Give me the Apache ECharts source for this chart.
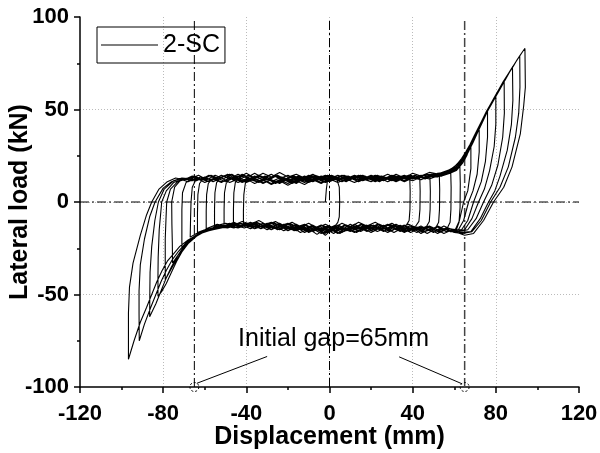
<!DOCTYPE html>
<html><head><meta charset="utf-8">
<script src="https://cdn.jsdelivr.net/npm/echarts@6/dist/echarts.min.js"></script>
<style>html,body{margin:0;padding:0;background:#fff}#c{width:600px;height:453px}</style>
</head><body><div id="c"></div>
<script>
// ---- axis ticks ----
const xTicks = [-120, -80, -40, 0, 40, 80, 120];
const yTicks = [-100, -50, 0, 50, 100];
const seriesName = '2-SC';

// ---- hysteresis path, one array per cycle (displacement mm, load kN) ----
const loop00 = [[-2,0],[-1.5,7],[-0.8,13],[0.5,14],[2,12.5],[3.6,12],[4.7,8],[4.9,0],[4.7,-8],[4,-11],[3,-12.5]];
const loop01 = [[0,-14],[-4,-12.5],[-8,-14.5],[-12,-12],[-16,-13.5],[-20,-11.5],[-24,-13],[-28,-11],[-32,-12.5],[-36,-11],[-39,-12],[-41.4,-11.5],
 [-41.4,-5],[-41.2,4],[-40.5,10],[-39,12.5],
 [-35,11],[-31,13],[-27,11.5],[-23,13.5],[-19,12],[-15,14],[-11,12.5],[-7,14.5],[-3,13],[1,14.5],[5,12.5],[9,14],[13,12],[17,13.5],[21,12],[25,14],[29,12.5],[33,14],[36,12.5],[38.6,13],
 [38.8,6],[38.7,-4],[38.3,-10],[37,-12.5]];
const loop02 = [[33,-14],[29,-12],[25,-14.5],[21,-12.5],[17,-15],[13,-13],[9,-15.5],[5,-13],[1,-16],[-3,-13.5],[-7,-15],[-11,-12.5],[-15,-14],[-19,-11.5],[-23,-13.5],[-27,-11],[-31,-13],[-35,-11],[-39,-12.5],[-43,-11.5],[-46.2,-12],
 [-46.2,-4],[-46,5],[-45.3,10.5],[-43.5,13],
 [-40,11.5],[-36,14],[-32,12],[-28,15],[-24,12.5],[-20,14.5],[-16,11.5],[-12,13.5],[-8,11.5],[-4,14],[0,12],[4,14.5],[8,12.5],[12,14.5],[16,13],[20,14],[24,12],[28,13.5],[32,11.5],[36,13.5],[40,12.5],[43.4,14],
 [43.6,6],[43.5,-4],[43,-10.5],[41.5,-13]];
const loop03 = [[38,-15],[34,-12.5],[30,-15.5],[26,-13],[22,-15],[18,-12.5],[14,-14.5],[10,-12],[6,-15],[2,-13],[-2,-17],[-6,-14],[-10,-16],[-14,-13.5],[-18,-15],[-22,-12.5],[-26,-14],[-30,-12],[-34,-13.5],[-38,-11],[-42,-13],[-46,-11.5],[-50.7,-13],
 [-50.7,-4],[-50.5,5],[-49.7,10],[-48,12.5],
 [-44,14],[-40,11],[-36,12.5],[-32,10.5],[-28,12],[-24,10],[-20,12.5],[-16,10],[-12,13],[-8,11],[-4,13.5],[0,11.5],[4,13],[8,11],[12,13.5],[16,11.5],[20,13],[24,11],[28,13.5],[32,12],[36,14],[40,12.5],[44,14.5],[48.3,13.5],
 [48.5,6],[48.4,-4],[48,-10.5],[46.5,-13.5]];
const loop04 = [[42,-14],[38,-12],[34,-14],[30,-11.5],[26,-13.5],[22,-11],[18,-13],[14,-11],[10,-13.5],[6,-11.5],[2,-14],[-2,-12],[-6,-14],[-10,-11.5],[-14,-13.5],[-18,-11],[-22,-13],[-26,-10.5],[-30,-12.5],[-34,-10],[-38,-12],[-42,-10.5],[-46,-12.5],[-50,-11.5],[-55.3,-13],
 [-55.3,-4],[-55.1,5],[-54.3,10.5],[-52.5,13],
 [-48,15],[-44,13],[-40,15.5],[-36,13],[-32,15.5],[-28,13.5],[-24,16],[-20,13.5],[-16,15],[-12,13],[-8,15],[-4,12.5],[0,14.5],[4,12],[8,14],[12,12.5],[16,14.5],[20,12],[24,14],[28,12.5],[32,15],[36,13],[40,15.5],[44,14],[48,16],[52.8,15],
 [53,7],[52.9,-4],[52.5,-11],[51,-14]];
const loop05 = [[46,-16],[42,-13.5],[38,-16],[34,-13],[30,-15.5],[26,-12.5],[22,-15],[18,-13],[14,-16],[10,-13.5],[6,-16.5],[2,-14],[-2,-18],[-6,-14.5],[-10,-16.5],[-14,-13],[-18,-15],[-22,-12],[-26,-14],[-30,-11.5],[-34,-13.5],[-38,-11],[-42,-13],[-46,-11],[-50,-13],[-54,-12],[-59.3,-14.5],
 [-59.3,-5],[-59.1,4],[-58.3,10],[-56.5,12.5],
 [-52,11],[-48,13],[-44,10.5],[-40,12.5],[-36,10],[-32,12],[-28,9.5],[-24,11.5],[-20,9],[-16,11.5],[-12,9.5],[-8,12],[-4,10],[0,12.5],[4,10.5],[8,12.5],[12,10.5],[16,13],[20,11],[24,13],[28,11],[32,13.5],[36,11.5],[40,13.5],[44,12],[48,14],[52,13.5],[55,15.5],[58.3,16.5],
 [58.5,8],[58.4,-4],[58,-11],[56.5,-14.5]];
const loop06 = [[52,-15],[48,-13],[44,-15.5],[40,-13],[36,-14.5],[32,-12],[28,-14],[24,-12],[20,-14.5],[16,-12],[12,-14],[8,-12.5],[4,-15],[0,-13],[-4,-15.5],[-8,-13],[-12,-15],[-16,-12.5],[-20,-14.5],[-24,-12],[-28,-14],[-32,-11.5],[-36,-13.5],[-40,-11.5],[-44,-13],[-48,-11.5],[-52,-13.5],[-56,-13],[-60,-15],[-63.5,-16.5],
 [-63.5,-6],[-63.3,4],[-62.5,10],[-60.5,13],
 [-56,12],[-52,14.5],[-48,12.5],[-44,15],[-40,13],[-36,15.5],[-32,13],[-28,15],[-24,12.5],[-20,14.5],[-16,12],[-12,14],[-8,12],[-4,14],[0,12.5],[4,14.5],[8,12],[12,14],[16,12.5],[20,14.5],[24,13],[28,15],[32,13],[36,14.5],[40,12.5],[44,14.5],[48,13.5],[52,15.5],[56,16],[59,17],[62.7,19.5],
 [62.9,10],[62.8,-3],[62.3,-11],[61,-15]];
const loop07 = [[56,-16],[52,-13.5],[48,-15.5],[44,-13],[40,-15],[36,-12.5],[32,-14.5],[28,-12],[24,-14],[20,-12.5],[16,-15],[12,-13],[8,-15.5],[4,-13.5],[0,-16],[-4,-14],[-8,-16],[-12,-13.5],[-16,-15.5],[-20,-13],[-24,-15],[-28,-12.5],[-32,-14],[-36,-12],[-40,-13.5],[-44,-12],[-48,-13.5],[-52,-12.5],[-56,-14],[-60,-15.5],[-64,-17],[-67,-19],
 [-66.8,-8],[-66.6,0],[-66,8],[-64.5,11.5],[-62,12.5],
 [-58,11],[-54,13],[-50,11],[-46,13],[-42,10.5],[-38,12.5],[-34,10.5],[-30,12.5],[-26,10],[-22,12],[-18,10],[-14,12],[-10,10.5],[-6,12.5],[-2,10.5],[2,12.5],[6,11],[10,13],[14,11],[18,13],[22,11.5],[26,13.5],[30,11.5],[34,13.5],[38,12],[42,14],[46,12.5],[50,14.5],[54,14],[58,15.5],[61,17],[64,21],[66,25],[68,31],
 [68,18],[66.5,6],[64.5,0],[62.5,-10],[60.5,-15],[56,-14]];
const loop08 = [[52,-16],[48,-13.5],[44,-16],[40,-13.5],[36,-16],[32,-13],[28,-15.5],[24,-13],[20,-15.5],[16,-13],[12,-15],[8,-12.5],[4,-15],[0,-13],[-4,-15],[-8,-12.5],[-12,-14.5],[-16,-12],[-20,-14],[-24,-11.5],[-28,-13.5],[-32,-11.5],[-36,-13.5],[-40,-12],[-44,-14],[-48,-12.5],[-52,-14],[-56,-14.5],[-60,-16],[-64,-18],[-68,-21],[-71,-25],
 [-71,-12],[-71,-4],[-70.7,5],[-69,10.5],[-66,12.5],
 [-62,12],[-58,14.5],[-54,12],[-50,14.5],[-46,12.5],[-42,15],[-38,12.5],[-34,14.5],[-30,12],[-26,14],[-22,11.5],[-18,13.5],[-14,11.5],[-10,14],[-6,12],[-2,14.5],[2,12.5],[6,14.5],[10,12],[14,14],[18,12],[22,13.5],[26,11.5],[30,13.5],[34,12],[38,14],[42,12.5],[46,14.5],[50,13.5],[54,15],[58,16],[61,18],[64,22],[66,26],[68,31],[70,35.5],[72,40],
 [72,27],[71,15],[69,6],[66.9,0],[64.5,-10],[62,-15],[57,-14.5]];
const loop09 = [[53,-16.5],[49,-14],[45,-16.5],[41,-14],[37,-16],[33,-13.5],[29,-16],[25,-13.5],[21,-16],[17,-13.5],[13,-16.5],[9,-14],[5,-17],[1,-14.5],[-3,-17],[-7,-14],[-11,-16],[-15,-13],[-19,-15],[-23,-12.5],[-27,-14.5],[-31,-12],[-35,-14],[-39,-12],[-43,-13.5],[-47,-12],[-51,-13.5],[-55,-13.5],[-59,-15],[-63,-17],[-67,-20.5],[-70,-24],[-73,-29],[-75.5,-33],
 [-75.6,-22],[-75.8,-12],[-75.9,0],[-74.5,8],[-71.5,12],[-68,13],
 [-64,11.5],[-60,13.5],[-56,11],[-52,13],[-48,10.5],[-44,12.5],[-40,10.5],[-36,12.5],[-32,10],[-28,12],[-24,10.5],[-20,12.5],[-16,10.5],[-12,12.5],[-8,11],[-4,13],[0,11],[4,13],[8,11.5],[12,13.5],[16,11.5],[20,13.5],[24,11.5],[28,13],[32,11],[36,13],[40,11.5],[44,13.5],[48,12.5],[52,14],[56,15],[59.5,16.5],[62.5,19],[65,23.5],[67,27.5],[69,32],[71,37],[73.5,43],[76,49],
 [76,35],[75,22],[73,11],[69.3,0],[66.5,-10],[63.5,-15],[59,-15]];
const loop10 = [[55,-17],[51,-14.5],[47,-17],[43,-14.5],[39,-16.5],[35,-14],[31,-16.5],[27,-14],[23,-16],[19,-13.5],[15,-16],[11,-13.5],[7,-16],[3,-14],[-1,-16.5],[-5,-14],[-9,-16],[-13,-13.5],[-17,-15.5],[-21,-13],[-25,-15],[-29,-12.5],[-33,-14.5],[-37,-12.5],[-41,-14],[-45,-12.5],[-49,-14],[-53,-13.5],[-57,-15],[-61,-16.5],[-65,-19],[-69,-23.5],[-72,-28.5],[-74.5,-33],[-77,-38],[-79,-42],
 [-79,-30],[-79,-20],[-78.6,-8],[-78.3,0],[-76.5,7],[-73,11],[-69,12.5],
 [-65,14],[-61,12],[-57,14.5],[-53,12.5],[-49,15],[-45,12.5],[-41,14.5],[-37,12],[-33,14],[-29,12],[-25,14.5],[-21,12],[-17,14],[-13,12],[-9,14.5],[-5,12.5],[-1,14.5],[3,12.5],[7,14.5],[11,12.5],[15,14.5],[19,12.5],[23,14.5],[27,12.5],[31,14.5],[35,12.5],[39,14.5],[43,13],[47,15],[51,14.5],[55,16],[59,17.5],[62,20],[65,24.5],[67,28.5],[69,33],[71,38],[73,42.5],[75,47],[77.5,52],[80,57],
 [80,42],[79.2,30],[77,17],[74.5,7],[71.7,0],[68.5,-9],[65,-15],[60,-15.5]];
const loop11 = [[56,-15],[52,-13],[48,-15.5],[44,-13],[40,-15.5],[36,-13],[32,-15],[28,-12.5],[24,-15],[20,-12.5],[16,-14.5],[12,-12],[8,-14.5],[4,-12.5],[0,-15],[-4,-12.5],[-8,-15],[-12,-12.5],[-16,-14.5],[-20,-12],[-24,-14],[-28,-11.5],[-32,-13.5],[-36,-11.5],[-40,-13.5],[-44,-12],[-48,-13.5],[-52,-13],[-56,-14.5],[-60,-16],[-64,-18.5],[-68,-22.5],[-71,-27],[-73.5,-32],[-76,-38],[-78.5,-44],[-80.5,-48],[-82.5,-51],
 [-82.5,-40],[-82.4,-30],[-81.9,-15],[-80.7,0],[-78.5,6],[-75,10.5],[-70,12.5],
 [-66,11.5],[-62,13.5],[-58,11],[-54,13],[-50,11],[-46,13.5],[-42,11],[-38,13],[-34,10.5],[-30,12.5],[-26,10.5],[-22,12.5],[-18,10.5],[-14,13],[-10,11],[-6,13],[-2,11],[2,13],[6,11],[10,13],[14,11],[18,13],[22,11],[26,13],[30,11.5],[34,13.5],[38,12],[42,14],[46,13],[50,14.5],[54,15],[58,17],[61,19],[64,23.5],[66,27],[68,31],[70,35.5],[72,40],[74,45],[76,49],[78,53.5],[80,57],[82,61],[84,65],
 [84.1,48],[83.3,35],[81,20],[78,9],[74.1,0],[70.5,-9],[66.5,-15],[62,-16]];
const loop12 = [[58,-16],[54,-14],[50,-16.5],[46,-14],[42,-16.5],[38,-14],[34,-16],[30,-13.5],[26,-16],[22,-13.5],[18,-16],[14,-13.5],[10,-16],[6,-14],[2,-17],[-2,-14.5],[-6,-17.5],[-10,-14.5],[-14,-16.5],[-18,-13.5],[-22,-15.5],[-26,-13],[-30,-15],[-34,-12.5],[-38,-14.5],[-42,-12.5],[-46,-14],[-50,-13],[-54,-14.5],[-58,-15.5],[-62,-17],[-66,-20],[-70,-24.5],[-73,-29],[-76,-35],[-78.5,-41],[-81,-48],[-83.5,-55],[-86.5,-62],
 [-86.4,-48],[-86.3,-38],[-85.5,-24],[-84,-10],[-82.3,0],[-79.5,7],[-75,11.5],[-71,13],
 [-67,12.5],[-63,14.5],[-59,12],[-55,14.5],[-51,12.5],[-47,15],[-43,12.5],[-39,14.5],[-35,12],[-31,14],[-27,11.5],[-23,13.5],[-19,11.5],[-15,13.5],[-11,11.5],[-7,14],[-3,12],[1,14],[5,12],[9,14],[13,12],[17,14],[21,12],[25,14],[29,12],[33,14],[37,12.5],[41,14.5],[45,13],[49,15],[53,15.5],[57,17],[60,19],[63,22.5],[65,26],[67,29.5],[69,34],[71,38.5],[73,43],[75,47.5],[77,51.5],[79,55.5],[81,59.5],[83,63.5],[85,67.5],[88,73],
 [88.2,55],[87.5,42],[85.5,28],[82,14],[79.5,6],[76.5,0],[72.5,-9],[68,-16],[63,-16.5]];
const loop13 = [[59,-15],[55,-13],[51,-15.5],[47,-13],[43,-15],[39,-12.5],[35,-15],[31,-12.5],[27,-14.5],[23,-12],[19,-14.5],[15,-12],[11,-14.5],[7,-12.5],[3,-15.5],[-1,-13],[-5,-15.5],[-9,-13],[-13,-15],[-17,-12.5],[-21,-14.5],[-25,-12],[-29,-14],[-33,-12],[-37,-13.5],[-41,-12],[-45,-13.5],[-49,-12.5],[-53,-13.5],[-57,-14.5],[-61,-16],[-65,-18.5],[-69,-22],[-72.5,-26.5],[-75.5,-31],[-78.5,-37],[-81,-43],[-83.5,-50],[-86,-57],[-89,-66],[-91.5,-75],
 [-91.6,-60],[-91.6,-48],[-91,-34],[-89,-20],[-86.5,-8],[-83.9,0],[-80,7.5],[-76,11],[-72,12.5],
 [-68,11],[-64,13],[-60,10.5],[-56,12.5],[-52,10.5],[-48,13],[-44,10.5],[-40,12.5],[-36,10],[-32,12],[-28,10],[-24,12],[-20,10],[-16,12.5],[-12,10.5],[-8,12.5],[-4,10.5],[0,12.5],[4,10.5],[8,12.5],[12,10.5],[16,12.5],[20,11],[24,13],[28,11],[32,13],[36,11],[40,13],[44,12],[48,14],[52,14],[56,16],[59,18],[62,21],[64.5,25],[66.5,28.5],[68.5,33],[70.5,37.5],[72.5,42],[74.5,46.5],[76.5,50.5],[78.5,54.5],[80.5,58.5],[82.5,62.5],[84.5,66],[86.5,70],[88.5,73.5],[90,76.5],[91.5,79],
 [91.6,62],[91,48],[89.4,35],[86,19],[82,8],[77.5,0],[73,-10],[68.5,-16],[64,-17]];
const loop14 = [[60,-16.5],[56,-14.5],[52,-17],[48,-14.5],[44,-17],[40,-14],[36,-16.5],[32,-14],[28,-16.5],[24,-14],[20,-16.5],[16,-14],[12,-16.5],[8,-14],[4,-17],[0,-14.5],[-4,-17],[-8,-14.5],[-12,-16.5],[-16,-13.5],[-20,-15.5],[-24,-13],[-28,-15],[-32,-13],[-36,-14.5],[-40,-12.5],[-44,-14],[-48,-13],[-52,-14],[-56,-15],[-60,-16],[-64,-18],[-68,-20.5],[-72,-24],[-75,-28],[-78,-32],[-80.5,-37],[-83,-43],[-85.5,-50],[-88,-57],[-91,-65],[-94,-75],[-96.7,-85],
 [-96.7,-72],[-96.7,-60],[-96.2,-46],[-94.5,-33],[-91,-18],[-88,-7],[-85.5,0],[-82,7],[-78,11],[-74,13],
 [-70,12],[-66,14],[-62,12],[-58,14.5],[-54,12.5],[-50,14.5],[-46,12],[-42,14],[-38,12],[-34,14.5],[-30,12.5],[-26,14.5],[-22,12],[-18,14],[-14,12],[-10,14.5],[-6,12.5],[-2,14.5],[2,12.5],[6,14.5],[10,12.5],[14,14.5],[18,12.5],[22,14.5],[26,12.5],[30,14.5],[34,12.5],[38,14.5],[42,13],[46,15],[50,14.5],[54,16],[58,17.5],[61,20],[63.5,23.5],[65.5,27],[67.5,31],[69.5,35.5],[71.5,40],[73.5,44.5],[75.5,49],[77.5,53],[79.5,57],[81.5,61],[83.5,65],[85.5,68.5],[87.5,72],[89.5,75.5],[91.5,79],[93,81.5],[94,83],
 [94.2,62],[93.4,52],[91.8,37],[87.8,19],[83.8,8],[78.9,0],[74.1,-10],[69.3,-17],[65,-18],[60,-16]];

// ---- reference lines & annotation (data units) ----
const refZeroX = [[0,-100],[0,99]];
const refZeroY = [[-120,0],[120,0]];
const refGapNeg = [[-65,-100],[-65,99]];
const refGapPos = [[65,-100],[65,99]];
const gapMarks = [[-65,-100],[65,-100]];
const leaderNeg = [[-30,-83.5],[-63.8,-98]];
const leaderPos = [[33.5,-83.7],[63.8,-98.3]];
const annotPos = [[2,-74]];
const annotText = 'Initial gap=65mm';

const hysteresis = [].concat(loop00, loop01, loop02, loop03, loop04, loop05, loop06, loop07,
  loop08, loop09, loop10, loop11, loop12, loop13, loop14);

const FONT = '"Liberation Sans", Arial, Helvetica, sans-serif';
const dashDot = [9, 3, 2, 3];
function refLine(data, color, width) {
  return { type: 'line', data: data, symbol: 'none', silent: true, z: 1,
    lineStyle: { color: color, width: width, type: dashDot }, animation: false };
}

const chart = echarts.init(document.getElementById('c'), null, { renderer: 'canvas' });
chart.setOption({
  animation: false,
  backgroundColor: '#fff',
  textStyle: { fontFamily: FONT },
  grid: { left: 80, right: 21, top: 17, bottom: 66, containLabel: false, outerBoundsMode: 'none' },
  legend: {
    data: [{ name: seriesName, icon: 'rect' }], left: 97, top: 27, orient: 'vertical',
    padding: [5, 5, 5, 4], borderColor: '#000', borderWidth: 1, borderRadius: 0,
    itemWidth: 57, itemHeight: 1, itemStyle: { color: '#000', borderWidth: 0 },
    textStyle: { fontFamily: FONT, fontSize: 25, color: '#000', lineHeight: 26 }
  },
  xAxis: {
    type: 'value', min: xTicks[0], max: xTicks[xTicks.length - 1], interval: 40,
    name: 'Displacement (mm)', nameLocation: 'middle', nameGap: 38, nameMoveOverlap: false,
    nameTextStyle: { fontFamily: FONT, fontSize: 25, fontWeight: 'bold', color: '#000' },
    axisLine: { show: true, onZero: false, lineStyle: { color: '#000', width: 1.5 } },
    axisTick: { show: true, inside: false, length: 6, lineStyle: { color: '#000', width: 1.5 } },
    minorTick: { show: true, splitNumber: 2, length: 3, lineStyle: { color: '#000', width: 1.5 } },
    axisLabel: { fontFamily: FONT, fontSize: 22, fontWeight: 'bold', color: '#000', margin: 16 },
    splitLine: { show: true, showMinLine: false, showMaxLine: false, lineStyle: { color: '#bbb', width: 1, type: [1, 2] } }
  },
  yAxis: {
    type: 'value', min: yTicks[0], max: yTicks[yTicks.length - 1], interval: 50,
    name: 'Lateral load (kN)', nameLocation: 'middle', nameGap: 47, nameRotate: 90, nameMoveOverlap: false,
    nameTextStyle: { fontFamily: FONT, fontSize: 25, fontWeight: 'bold', color: '#000' },
    axisLine: { show: true, onZero: false, lineStyle: { color: '#000', width: 1.5 } },
    axisTick: { show: true, inside: false, length: 6, lineStyle: { color: '#000', width: 1.5 } },
    minorTick: { show: true, splitNumber: 2, length: 3, lineStyle: { color: '#000', width: 1.5 } },
    axisLabel: { fontFamily: FONT, fontSize: 22, fontWeight: 'bold', color: '#000', margin: 11 },
    splitLine: { show: true, showMinLine: false, showMaxLine: false, lineStyle: { color: '#bbb', width: 1, type: [1, 2] } }
  },
  series: [
    refLine(refZeroY, '#000', 1),
    refLine(refZeroX, '#000', 1),
    refLine(refGapNeg, '#000', 1),
    refLine(refGapPos, '#444', 1.5),
    {
      name: seriesName, type: 'line', data: hysteresis, symbol: 'none', showSymbol: false,
      z: 3, lineStyle: { color: '#000', width: 1.1 }, itemStyle: { color: '#000' }, animation: false
    },
    { type: 'line', data: leaderNeg, symbol: 'none', silent: true, z: 4, lineStyle: { color: '#000', width: 1 } },
    { type: 'line', data: leaderPos, symbol: 'none', silent: true, z: 4, lineStyle: { color: '#000', width: 1 } },
    {
      type: 'scatter', data: gapMarks, symbol: 'circle', symbolSize: 9, clip: false, silent: true, z: 5,
      itemStyle: { color: 'rgba(0,0,0,0)', opacity: 1, borderColor: '#000', borderWidth: 1, borderType: [2, 2] }
    },
    {
      type: 'scatter', data: annotPos, symbolSize: 0, silent: true, z: 5,
      itemStyle: { color: 'rgba(0,0,0,0)', opacity: 1 },
      label: { show: true, position: 'inside', formatter: annotText, fontFamily: FONT, fontSize: 25, color: '#000', opacity: 1 }
    }
  ]
});
</script>
</body></html>
